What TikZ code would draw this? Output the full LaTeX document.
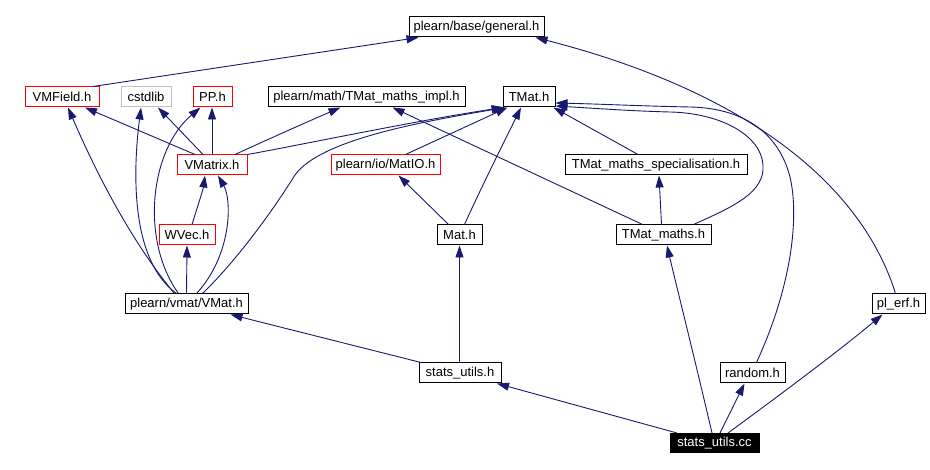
\documentclass[tikz,border=0pt]{standalone}
\usepackage{fontspec}
\setmainfont{Liberation Sans}
\usetikzlibrary{arrows.meta}
\definecolor{edgeblue}{HTML}{191970}
\definecolor{boxgray}{HTML}{BFBFBF}
\begin{document}
\begin{tikzpicture}[x=1pt,y=-1pt,
 file/.style={draw=black, line width=1pt, inner sep=0pt, minimum height=20pt, font=\fontsize{13}{15}\selectfont, text=black},
 redfile/.style={file, draw=red},
 grayfile/.style={file, draw=boxgray},
 mainfile/.style={file, fill=black, text=white, minimum height=19pt},
 dep/.style={draw=edgeblue, line width=0.9pt, -{Triangle[length=12pt,width=8pt]}},
]
\useasboundingbox[fill=white] (0,0) rectangle (930,470);
% nodes
\node[file, minimum width=135] (general) at (476.5,27) {plearn/base/general.h};
\node[redfile, minimum width=74] (VMField) at (62,97) {VMField.h};
\node[grayfile, minimum width=50] (cstdlib) at (146,97) {cstdlib};
\node[redfile, minimum width=39] (PP) at (212.5,97) {PP.h};
\node[file, minimum width=197] (impl) at (366.5,97) {plearn/math/TMat\_maths\_impl.h};
\node[file, minimum width=52] (TMat) at (529,97) {TMat.h};
\node[redfile, minimum width=70] (VMatrix) at (212,165) {VMatrix.h};
\node[redfile, minimum width=109] (MatIO) at (385.5,165) {plearn/io/MatIO.h};
\node[file, minimum width=182] (spec) at (656,165) {TMat\_maths\_specialisation.h};
\node[redfile, minimum width=56] (WVec) at (187,235) {WVec.h};
\node[file, minimum width=45] (Mat) at (459.5,235) {Mat.h};
\node[file, minimum width=95] (TMaths) at (663.5,235) {TMat\_maths.h};
\node[file, minimum width=123] (VMat) at (186.5,304) {plearn/vmat/VMat.h};
\node[file, minimum width=53] (plerf) at (898.5,304) {pl\_erf.h};
\node[file, minimum width=82] (su) at (460,373) {stats\_utils.h};
\node[file, minimum width=65] (random) at (752.5,373) {random.h};
\node[mainfile, minimum width=89] (cc) at (714.5,443) {stats\_utils.cc};
% edges
\draw[dep] ([xshift=31]VMField.north) -- ([xshift=-58]general.south);
\draw[dep] ([xshift=-3]plerf.north) .. controls (860,180) and (740,90) .. ([xshift=59]general.south);
\draw[dep] ([xshift=-17]VMatrix.north) -- ([xshift=23]VMField.south);
\draw[dep] ([xshift=-9]VMatrix.north) -- ([xshift=12]cstdlib.south);
\draw[dep] (VMatrix.north) -- (VMatrix.north |- PP.south);
\draw[dep] ([xshift=23]VMatrix.north) .. controls (260,143) and (300,125) .. ([xshift=-26]impl.south);
\draw[dep] (VMatrix.north east) .. controls (300,145) and (420,120) .. ([xshift=1]TMat.south west);
\draw[dep] ([xshift=-12]VMat.north) .. controls (130,240) and (95,170) .. ([xshift=6]VMField.south);
\draw[dep] ([xshift=-10]VMat.north) .. controls (130,260) and (133,170) .. ([xshift=-5]cstdlib.south);
\draw[dep] ([xshift=-8]VMat.north) .. controls (140,240) and (150,150) .. ([xshift=-12]PP.south);
\draw[dep] (VMat.north) -- (WVec.south);
\draw[dep] ([xshift=10]VMat.north) .. controls (232,255) and (232,200) .. ([xshift=6]VMatrix.south);
\draw[dep] ([xshift=16]VMat.north) .. controls (235,262) and (270,215) .. (295,175) .. controls (320,140) and (420,122) .. ([xshift=3]TMat.south west);
\draw[dep] ([xshift=5]WVec.north) .. controls (198,205) and (203,190) .. ([xshift=-7]VMatrix.south);
\draw[dep] ([xshift=20]MatIO.north) -- ([xshift=5]TMat.south west);
\draw[dep] ([xshift=5]Mat.north) .. controls (480,190) and (505,140) .. ([xshift=-8]TMat.south);
\draw[dep] ([xshift=-11]Mat.north) -- ([xshift=13]MatIO.south);
\draw[dep] ([xshift=-18]spec.north) -- ([xshift=-2]TMat.south east);
\draw[dep] ([xshift=-21]TMaths.north) -- ([xshift=26]impl.south);
\draw[dep] ([xshift=-2]TMaths.north) -- ([xshift=3]spec.south);
\draw[dep] ([xshift=30]TMaths.north) .. controls (735,206) and (765,192) .. (763,165) .. controls (761,135) and (720,113) .. (670,112) .. controls (630,111) and (590,108) .. ([yshift=-9]TMat.east);
\draw[dep] ([xshift=4]random.north) .. controls (790,290) and (800,220) .. (790,177) .. controls (778,130) and (740,108) .. (690,107) .. controls (640,106) and (600,104) .. ([yshift=-6]TMat.east);
\draw[dep] ([xshift=-39]su.north) -- ([xshift=44]VMat.south);
\draw[dep] (Mat.south |- su.north) -- (Mat.south);
\draw[dep] ([xshift=-37.5]cc.north) -- ([xshift=37]su.south);
\draw[dep] ([xshift=-2.5]cc.north) .. controls (695,360) and (675,280) .. ([xshift=3.5]TMaths.south);
\draw[dep] ([xshift=5.5]cc.north) -- ([xshift=-8]random.south);
\draw[dep] ([xshift=13.5]cc.north) .. controls (780,395) and (840,350) .. ([xshift=-16]plerf.south);
\end{tikzpicture}
\end{document}
